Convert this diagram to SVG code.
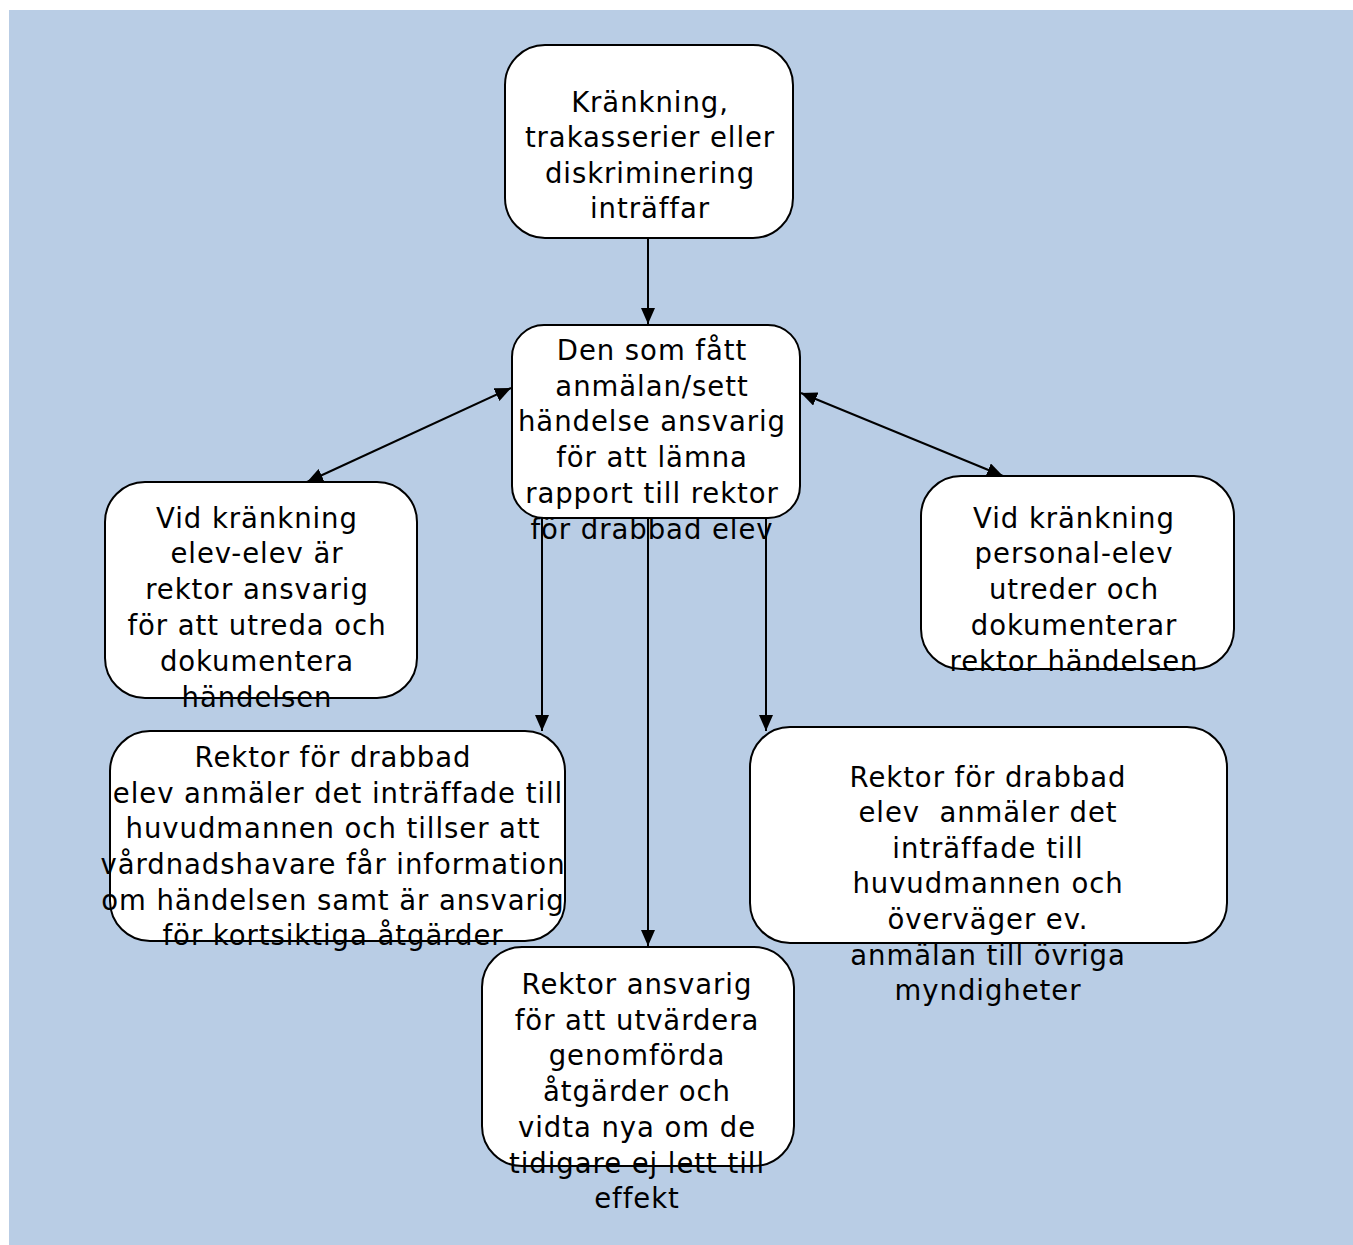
<svg xmlns="http://www.w3.org/2000/svg" width="1353" height="1245" viewBox="0 0 1353 1245">
<defs>
<marker id="ah" viewBox="0 0 16 14" refX="16" refY="7" markerWidth="16" markerHeight="14" markerUnits="userSpaceOnUse" orient="auto-start-reverse"><path d="M0,0 L16,7 L0,14 z" fill="#000"/></marker>
<style>
.box{fill:#fff;stroke:#000;stroke-width:2}
.t{font-family:"DejaVu Sans",Verdana,sans-serif;font-size:27.5px;letter-spacing:0.95px;fill:#000;text-anchor:middle}
.c{stroke:#000;stroke-width:2;fill:none}
</style>
</defs>
<rect x="0" y="0" width="1353" height="1245" fill="#fff"/>
<rect x="9" y="10" width="1344" height="1235" fill="#B9CDE5"/>
<g id="connectors">
<line class="c" x1="648" y1="238" x2="648" y2="324" marker-end="url(#ah)"/>
<line class="c" x1="511" y1="388" x2="307" y2="482" marker-start="url(#ah)" marker-end="url(#ah)"/>
<line class="c" x1="801" y1="393" x2="1003" y2="476" marker-start="url(#ah)" marker-end="url(#ah)"/>
<line class="c" x1="542" y1="518" x2="542" y2="731" marker-end="url(#ah)"/>
<line class="c" x1="648" y1="518" x2="648" y2="946" marker-end="url(#ah)"/>
<line class="c" x1="766" y1="518" x2="766" y2="731" marker-end="url(#ah)"/>
</g>
<g id="n1">
<rect class="box" x="505" y="45" width="288" height="193" rx="40"/>
<text class="t"><tspan x="650" y="112">Kränkning,</tspan><tspan x="650" y="147">trakasserier eller</tspan><tspan x="650" y="183">diskriminering</tspan><tspan x="650" y="218">inträffar</tspan></text>
</g>
<g id="n2">
<rect class="box" x="512" y="325" width="288" height="193" rx="32"/>
<text class="t"><tspan x="652" y="360">Den som fått</tspan><tspan x="652" y="396">anmälan/sett</tspan><tspan x="652" y="431">händelse ansvarig</tspan><tspan x="652" y="467">för att lämna</tspan><tspan x="652" y="503">rapport till rektor</tspan><tspan x="652" y="539">för drabbad elev</tspan></text>
</g>
<g id="n3">
<rect class="box" x="105" y="482" width="312" height="216" rx="40"/>
<text class="t"><tspan x="257" y="528">Vid kränkning</tspan><tspan x="257" y="563">elev-elev är</tspan><tspan x="257" y="599">rektor ansvarig</tspan><tspan x="257" y="635">för att utreda och</tspan><tspan x="257" y="671">dokumentera</tspan><tspan x="257" y="707">händelsen</tspan></text>
</g>
<g id="n4">
<rect class="box" x="921" y="476" width="313" height="193" rx="40"/>
<text class="t"><tspan x="1074" y="528">Vid kränkning</tspan><tspan x="1074" y="563">personal-elev</tspan><tspan x="1074" y="599">utreder och</tspan><tspan x="1074" y="635">dokumenterar</tspan><tspan x="1074" y="671">rektor händelsen</tspan></text>
</g>
<g id="n5">
<rect class="box" x="110" y="731" width="455" height="210" rx="40"/>
<text class="t"><tspan x="333" y="767">Rektor för drabbad</tspan><tspan x="338" y="803">elev anmäler det inträffade till</tspan><tspan x="333" y="838">huvudmannen och tillser att</tspan><tspan x="333" y="874">vårdnadshavare får information</tspan><tspan x="333" y="910">om händelsen samt är ansvarig</tspan><tspan x="333" y="945">för kortsiktiga åtgärder</tspan></text>
</g>
<g id="n6">
<rect class="box" x="750" y="727" width="477" height="216" rx="40"/>
<text class="t" xml:space="preserve"><tspan x="988" y="787">Rektor för drabbad</tspan><tspan x="988" y="822">elev  anmäler det</tspan><tspan x="988" y="858">inträffade till</tspan><tspan x="988" y="893">huvudmannen och</tspan><tspan x="988" y="929">överväger ev.</tspan><tspan x="988" y="965">anmälan till övriga</tspan><tspan x="988" y="1000">myndigheter</tspan></text>
</g>
<g id="n7">
<rect class="box" x="482" y="947" width="312" height="219" rx="40"/>
<text class="t"><tspan x="637" y="994">Rektor ansvarig</tspan><tspan x="637" y="1030">för att utvärdera</tspan><tspan x="637" y="1065">genomförda</tspan><tspan x="637" y="1101">åtgärder och</tspan><tspan x="637" y="1137">vidta nya om de</tspan><tspan x="637" y="1173">tidigare ej lett till</tspan><tspan x="637" y="1208">effekt</tspan></text>
</g>
</svg>
